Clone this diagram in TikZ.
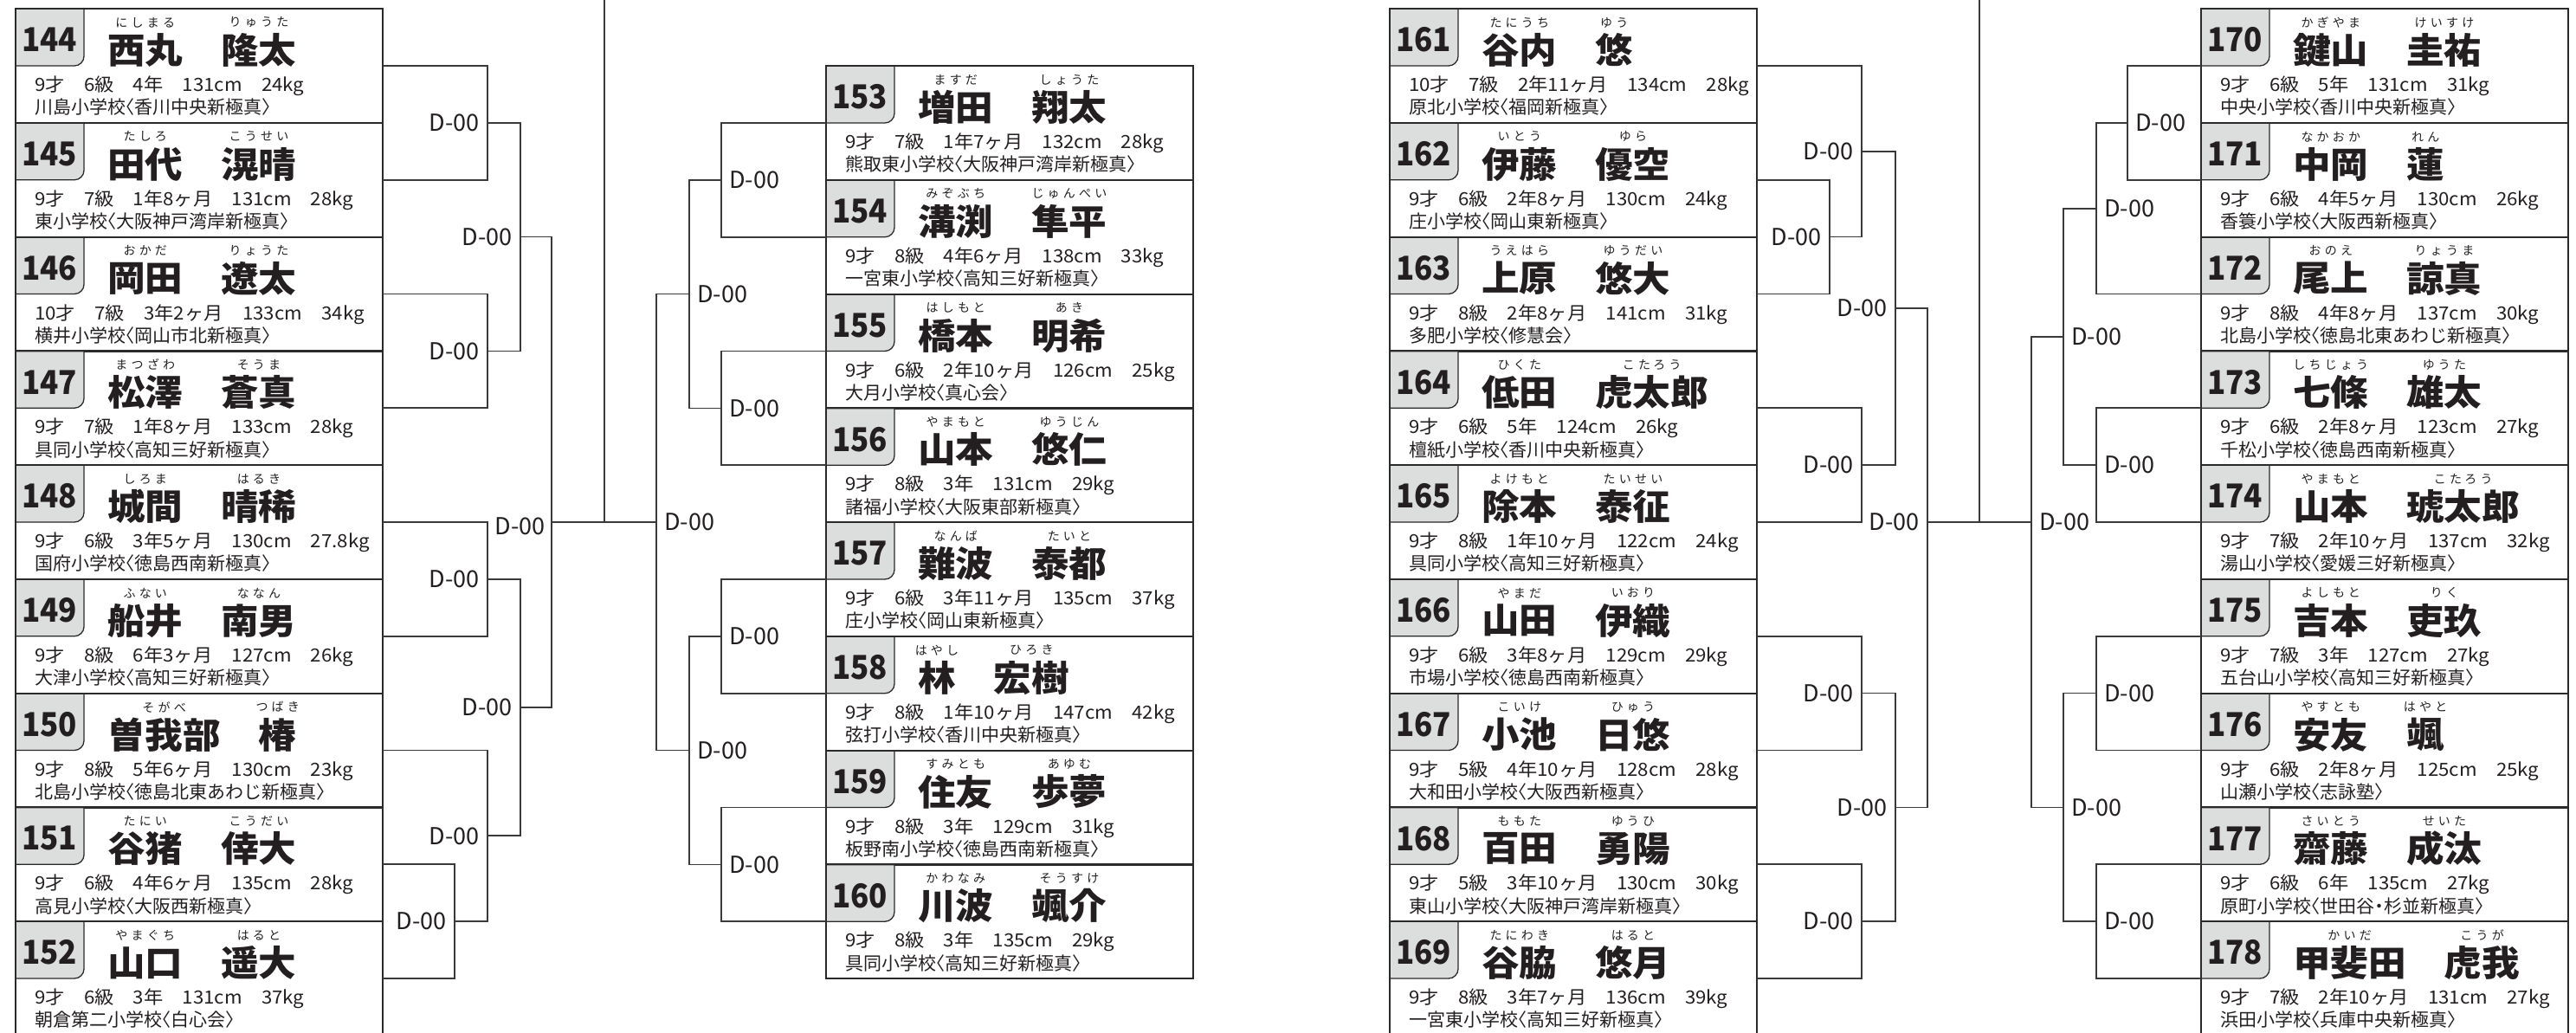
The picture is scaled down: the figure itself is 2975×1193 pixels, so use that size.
\documentclass[tikz,border=0pt]{standalone}
\usepackage{fontspec}
\usetikzlibrary{calc}
\setmainfont{Noto Sans CJK JP}
\newfontfamily\nmfam{Noto Sans CJK JP}[FakeStretch=1.063]
\newfontfamily\nbfam{Noto Sans CJK JP}[FakeStretch=0.92]
\newfontfamily\rbfam{Noto Sans CJK JP}[LetterSpace=30]
\newfontfamily\iffam{Noto Sans CJK JP}[FakeStretch=1.06]
\newfontfamily\lbfam{Noto Sans CJK JP}
\newfontfamily\scfam{Noto Sans CJK JP}[RawFeature=+halt]
\newcommand\fName{\nmfam\bfseries\fontsize{41}{41}\selectfont}
\newcommand\fNum{\nbfam\bfseries\fontsize{38}{38}\selectfont}
\newcommand\fRuby{\rbfam\fontsize{14}{14}\selectfont}
\newcommand\fInfo{\iffam\fontsize{21}{21}\selectfont}
\newcommand\fSch{\scfam\fontsize{21}{21}\selectfont}
\newcommand\fLbl{\lbfam\fontsize{27}{27}\selectfont}
\definecolor{txtc}{HTML}{231F20}
\definecolor{boxc}{HTML}{2A2A2A}
\definecolor{linec}{HTML}{3A3A3A}
\definecolor{tabc}{HTML}{DCDDDD}
\tikzset{
 pbox/.style={draw=boxc, line width=2pt, minimum width=424pt, minimum height=132pt, inner sep=0pt, outer sep=0pt},
 numst/.style={font=\fNum, text=txtc, inner sep=0pt},
 namest/.style={font=\fName, text=txtc, inner sep=0pt},
 rubyst/.style={font=\fRuby, text=txtc, inner sep=0pt},
 infost/.style={font=\fInfo, text=txtc, inner sep=0pt},
 schst/.style={font=\fSch, text=txtc, inner sep=0pt},
 lblst/.style={font=\fLbl, text=txtc, inner sep=0pt},
 conn/.style={draw=linec, line width=1.7pt},
 tabline/.style={draw=boxc, line width=1.3pt},
}
\newcommand\player[9]{%
\begin{scope}[shift={(#1,#2)}]
 \fill[tabc] (1,1) -- (79,1) -- (79,55) .. controls (79,61) and (74,66) .. (68,66) -- (1,66) -- cycle;
 \draw[tabline] (79,0) -- (79,55) .. controls (79,61) and (74,66) .. (68,66) -- (0,66);
 \node[pbox] (p#3) at (212,66) {};
 \node[numst] (n#3) at (39,36) {#3};
 \node[namest, anchor=west] (s#3) at (106,48) {#4};
 \node[namest, anchor=west] (g#3) at ($(s#3.east)+(43.6,0)$) {#5};
 \node[rubyst] (rs#3) at (s#3.center |- 0,16) {#6};
 \node[rubyst] (rg#3) at (g#3.center |- 0,16) {#7};
 \node[infost, anchor=west] (i#3) at (22,89.5) {#8};
 \node[schst, anchor=west] (c#3) at (22,114) {#9};
\end{scope}}
\begin{document}
\begin{tikzpicture}[x=1pt,y=-1pt]
\useasboundingbox (0,0) rectangle (2975,1193);
\fill[white] (0,0) rectangle (2975,1193);
\clip (0,0) rectangle (2975,1193);
% ---- group A
\player{18}{10}{144}{西丸}{隆太}{にしまる}{りゅうた}{9才　6級　4年　131cm　24kg}{川島小学校〈香川中央新極真〉}
\player{18}{141.75}{145}{田代}{滉晴}{たしろ}{こうせい}{9才　7級　1年8ヶ月　131cm　28kg}{東小学校〈大阪神戸湾岸新極真〉}
\player{18}{273.5}{146}{岡田}{遼太}{おかだ}{りょうた}{10才　7級　3年2ヶ月　133cm　34kg}{横井小学校〈岡山市北新極真〉}
\player{18}{405.25}{147}{松澤}{蒼真}{まつざわ}{そうま}{9才　7級　1年8ヶ月　133cm　28kg}{具同小学校〈高知三好新極真〉}
\player{18}{537}{148}{城間}{晴稀}{しろま}{はるき}{9才　6級　3年5ヶ月　130cm　27.8kg}{国府小学校〈徳島西南新極真〉}
\player{18}{668.75}{149}{船井}{南男}{ふない}{ななん}{9才　8級　6年3ヶ月　127cm　26kg}{大津小学校〈高知三好新極真〉}
\player{18}{800.5}{150}{曽我部}{椿}{そがべ}{つばき}{9才　8級　5年6ヶ月　130cm　23kg}{北島小学校〈徳島北東あわじ新極真〉}
\player{18}{932.25}{151}{谷猪}{倖大}{たにい}{こうだい}{9才　6級　4年6ヶ月　135cm　28kg}{高見小学校〈大阪西新極真〉}
\player{18}{1064}{152}{山口}{遥大}{やまぐち}{はると}{9才　6級　3年　131cm　37kg}{朝倉第二小学校〈白心会〉}
% ---- group B
\player{954}{76}{153}{増田}{翔太}{ますだ}{しょうた}{9才　7級　1年7ヶ月　132cm　28kg}{熊取東小学校〈大阪神戸湾岸新極真〉}
\player{954}{207.75}{154}{溝渕}{隼平}{みぞぶち}{じゅんぺい}{9才　8級　4年6ヶ月　138cm　33kg}{一宮東小学校〈高知三好新極真〉}
\player{954}{339.5}{155}{橋本}{明希}{はしもと}{あき}{9才　6級　2年10ヶ月　126cm　25kg}{大月小学校〈真心会〉}
\player{954}{471.25}{156}{山本}{悠仁}{やまもと}{ゆうじん}{9才　8級　3年　131cm　29kg}{諸福小学校〈大阪東部新極真〉}
\player{954}{603}{157}{難波}{泰都}{なんば}{たいと}{9才　6級　3年11ヶ月　135cm　37kg}{庄小学校〈岡山東新極真〉}
\player{954}{734.75}{158}{林}{宏樹}{はやし}{ひろき}{9才　8級　1年10ヶ月　147cm　42kg}{弦打小学校〈香川中央新極真〉}
\player{954}{866.5}{159}{住友}{歩夢}{すみとも}{あゆむ}{9才　8級　3年　129cm　31kg}{板野南小学校〈徳島西南新極真〉}
\player{954}{998.25}{160}{川波}{颯介}{かわなみ}{そうすけ}{9才　8級　3年　135cm　29kg}{具同小学校〈高知三好新極真〉}
% ---- group C
\player{1605}{10}{161}{谷内}{悠}{たにうち}{ゆう}{10才　7級　2年11ヶ月　134cm　28kg}{原北小学校〈福岡新極真〉}
\player{1605}{141.75}{162}{伊藤}{優空}{いとう}{ゆら}{9才　6級　2年8ヶ月　130cm　24kg}{庄小学校〈岡山東新極真〉}
\player{1605}{273.5}{163}{上原}{悠大}{うえはら}{ゆうだい}{9才　8級　2年8ヶ月　141cm　31kg}{多肥小学校〈修慧会〉}
\player{1605}{405.25}{164}{低田}{虎太郎}{ひくた}{こたろう}{9才　6級　5年　124cm　26kg}{檀紙小学校〈香川中央新極真〉}
\player{1605}{537}{165}{除本}{泰征}{よけもと}{たいせい}{9才　8級　1年10ヶ月　122cm　24kg}{具同小学校〈高知三好新極真〉}
\player{1605}{668.75}{166}{山田}{伊織}{やまだ}{いおり}{9才　6級　3年8ヶ月　129cm　29kg}{市場小学校〈徳島西南新極真〉}
\player{1605}{800.5}{167}{小池}{日悠}{こいけ}{ひゅう}{9才　5級　4年10ヶ月　128cm　28kg}{大和田小学校〈大阪西新極真〉}
\player{1605}{932.25}{168}{百田}{勇陽}{ももた}{ゆうひ}{9才　5級　3年10ヶ月　130cm　30kg}{東山小学校〈大阪神戸湾岸新極真〉}
\player{1605}{1064}{169}{谷脇}{悠月}{たにわき}{はると}{9才　8級　3年7ヶ月　136cm　39kg}{一宮東小学校〈高知三好新極真〉}
% ---- group D
\player{2542}{10}{170}{鍵山}{圭祐}{かぎやま}{けいすけ}{9才　6級　5年　131cm　31kg}{中央小学校〈香川中央新極真〉}
\player{2542}{141.75}{171}{中岡}{蓮}{なかおか}{れん}{9才　6級　4年5ヶ月　130cm　26kg}{香簑小学校〈大阪西新極真〉}
\player{2542}{273.5}{172}{尾上}{諒真}{おのえ}{りょうま}{9才　8級　4年8ヶ月　137cm　30kg}{北島小学校〈徳島北東あわじ新極真〉}
\player{2542}{405.25}{173}{七條}{雄太}{しちじょう}{ゆうた}{9才　6級　2年8ヶ月　123cm　27kg}{千松小学校〈徳島西南新極真〉}
\player{2542}{537}{174}{山本}{琥太郎}{やまもと}{こたろう}{9才　7級　2年10ヶ月　137cm　32kg}{湯山小学校〈愛媛三好新極真〉}
\player{2542}{668.75}{175}{吉本}{吏玖}{よしもと}{りく}{9才　7級　3年　127cm　27kg}{五台山小学校〈高知三好新極真〉}
\player{2542}{800.5}{176}{安友}{颯}{やすとも}{はやと}{9才　6級　2年8ヶ月　125cm　25kg}{山瀬小学校〈志詠塾〉}
\player{2542}{932.25}{177}{齋藤}{成汰}{さいとう}{せいた}{9才　6級　6年　135cm　27kg}{原町小学校〈世田谷・杉並新極真〉}
\player{2542}{1064}{178}{甲斐田}{虎我}{かいだ}{こうが}{9才　7級　2年10ヶ月　131cm　27kg}{浜田小学校〈兵庫中央新極真〉}
% ---- junctions
\coordinate (a1) at (563,141.9);
\coordinate (a2) at (563,405.4);
\coordinate (a3) at (601,273.6);
\coordinate (a4) at (563,668.9);
\coordinate (a5) at (525,1064.1);
\coordinate (a6) at (563,965.3);
\coordinate (a7) at (601,817.1);
\coordinate (a8) at (637,603);
\coordinate (b1) at (833,207.9);
\coordinate (b2) at (833,471.4);
\coordinate (b3) at (796,339.6);
\coordinate (b4) at (833,734.9);
\coordinate (b5) at (833,998.4);
\coordinate (b6) at (796,866.6);
\coordinate (b7) at (758,603);
\coordinate (c1) at (2113,273.6);
\coordinate (c2) at (2150,174.8);
\coordinate (c3) at (2150,537.1);
\coordinate (c4) at (2189,356);
\coordinate (c5) at (2150,800.6);
\coordinate (c6) at (2150,1064.1);
\coordinate (c7) at (2189,932.4);
\coordinate (c8) at (2226,603);
\coordinate (d1) at (2457,141.9);
\coordinate (d2) at (2421,240.7);
\coordinate (d3) at (2421,537.1);
\coordinate (d4) at (2383,388.9);
\coordinate (d5) at (2421,800.6);
\coordinate (d6) at (2421,1064.1);
\coordinate (d7) at (2383,932.4);
\coordinate (d8) at (2346,603);
\coordinate (t1) at (698,-5);
\coordinate (j1) at (698,603);
\coordinate (t2) at (2286,-5);
\coordinate (j2) at (2286,603);
% ---- connectors group A
\draw[conn] (p144.east) -| (a1) |- (p145.east);
\draw[conn] (p146.east) -| (a2) |- (p147.east);
\draw[conn] (a1) -| (a3) |- (a2);
\draw[conn] (p148.east) -| (a4) |- (p149.east);
\draw[conn] (p151.east) -| (a5) |- (p152.east);
\draw[conn] (p150.east) -| (a6) |- (a5);
\draw[conn] (a4) -| (a7) |- (a6);
\draw[conn] (a3) -| (a8) |- (a7);
% ---- connectors group B
\draw[conn] (p153.west) -| (b1) |- (p154.west);
\draw[conn] (p155.west) -| (b2) |- (p156.west);
\draw[conn] (b1) -| (b3) |- (b2);
\draw[conn] (p157.west) -| (b4) |- (p158.west);
\draw[conn] (p159.west) -| (b5) |- (p160.west);
\draw[conn] (b4) -| (b6) |- (b5);
\draw[conn] (b3) -| (b7) |- (b6);
\draw[conn] (a8) -- (b7);
\draw[conn] (t1) -- (j1);
% ---- connectors group C
\draw[conn] (p162.east) -| (c1) |- (p163.east);
\draw[conn] (p161.east) -| (c2) |- (c1);
\draw[conn] (p164.east) -| (c3) |- (p165.east);
\draw[conn] (c2) -| (c4) |- (c3);
\draw[conn] (p166.east) -| (c5) |- (p167.east);
\draw[conn] (p168.east) -| (c6) |- (p169.east);
\draw[conn] (c5) -| (c7) |- (c6);
\draw[conn] (c4) -| (c8) |- (c7);
% ---- connectors group D
\draw[conn] (p170.west) -| (d1) |- (p171.west);
\draw[conn] (d1) -| (d2) |- (p172.west);
\draw[conn] (p173.west) -| (d3) |- (p174.west);
\draw[conn] (d2) -| (d4) |- (d3);
\draw[conn] (p175.west) -| (d5) |- (p176.west);
\draw[conn] (p177.west) -| (d6) |- (p178.west);
\draw[conn] (d5) -| (d7) |- (d6);
\draw[conn] (d4) -| (d8) |- (d7);
\draw[conn] (c8) -- (d8);
\draw[conn] (t2) -- (j2);
% ---- labels
\foreach \j in {a1,a2,a3,a4,a5,a6,a7,c1,c2,c3,c4,c5,c6,c7,c8}
  \node[lblst, anchor=east] (L\j) at ($(\j)+(-9,0)$) {D-00};
\node[lblst, anchor=east] (La8) at ($(a8)+(-7,5)$) {D-00};
\foreach \j in {b1,b2,b3,b4,b5,b6,b7,d1,d2,d3,d4,d5,d6,d7,d8}
  \node[lblst, anchor=west] (L\j) at ($(\j)+(9,0)$) {D-00};
\end{tikzpicture}
\end{document}
